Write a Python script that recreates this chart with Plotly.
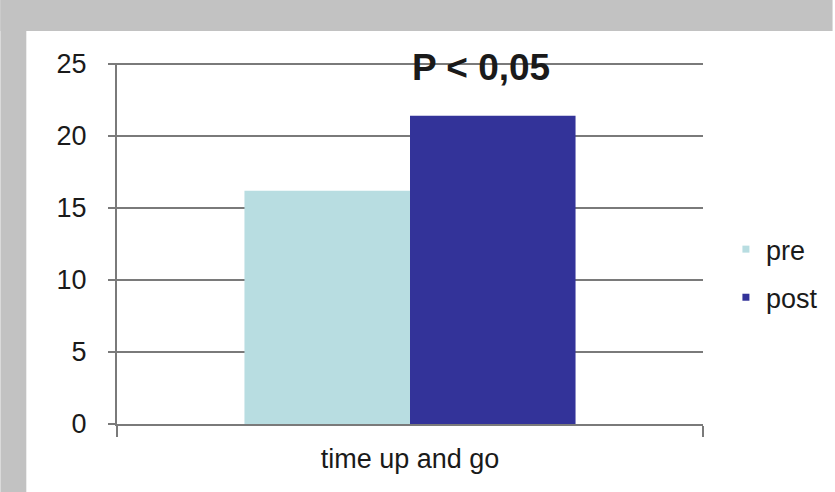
import plotly.graph_objects as go

# ---- data ----
categories = ["time up and go"]
series_names = ["pre", "post"]
pre_values = [16.2]
post_values = [21.4]
series_colors = ["#b8dde1", "#333399"]
y_ticks = [0, 5, 10, 15, 20, 25]
annotation_text = "P < 0,05"

W, H = 835, 492
ML, MR, MT, MB = 117, 130, 64, 68
pw = W - ML - MR
ph = H - MT - MB

def px_x(x):
    return (x - ML) / pw

def px_y(y):
    return (H - MB - y) / ph

FONT = "Liberation Sans, Arial, sans-serif"
TXT = "#1a1a1a"
LINE = "#7a7a7a"

fig = go.Figure()
for name, vals, col in zip(series_names, [pre_values, post_values], series_colors):
    fig.add_trace(go.Bar(x=categories, y=vals, name=name, marker_color=col,
                         marker_line_width=0, showlegend=False))
    fig.add_trace(go.Scatter(x=[None], y=[None], mode="markers", name=name,
                             legendgroup=name,
                             marker=dict(symbol="square", size=7, color=col)))

fig.update_layout(
    width=W, height=H,
    margin=dict(l=ML, r=MR, t=MT - 1, b=MB),
    paper_bgcolor="white", plot_bgcolor="white",
    barmode="group", bargap=0.435, bargroupgap=0,
    font=dict(family=FONT, size=27, color=TXT),
    legend=dict(x=px_x(728), y=px_y(274), xanchor="left", yanchor="middle",
                font=dict(size=27, color=TXT), bgcolor="rgba(0,0,0,0)",
                traceorder="grouped", tracegroupgap=10),
    xaxis=dict(type="category", showgrid=False, showline=True, linecolor=LINE,
               linewidth=2, ticks="outside", tickson="boundaries", ticklen=11,
               tickwidth=2, tickcolor=LINE, ticklabelstandoff=10,
               tickfont=dict(size=27, color=TXT)),
    yaxis=dict(range=[0, 25.07], tickvals=y_ticks, showgrid=True, gridcolor=LINE,
               gridwidth=2, showline=True, linecolor=LINE, linewidth=2,
               ticks="outside", ticklen=7, tickwidth=2, tickcolor=LINE,
               ticklabelstandoff=16, zeroline=False,
               tickfont=dict(size=27, color=TXT)),
    shapes=[
        dict(type="rect", xref="paper", yref="paper", layer="above",
             x0=px_x(0), x1=px_x(W), y0=px_y(0), y1=px_y(32),
             fillcolor="#c2c2c2", line_width=0),
        dict(type="rect", xref="paper", yref="paper", layer="above",
             x0=px_x(0), x1=px_x(26), y0=px_y(0), y1=px_y(H),
             fillcolor="#c2c2c2", line_width=0),
    ],
    annotations=[
        dict(text="<b>" + annotation_text + "</b>", xref="paper", yref="paper",
             x=px_x(482), y=px_y(68), xanchor="center", yanchor="middle",
             showarrow=False, font=dict(size=37, color=TXT, family=FONT)),
    ],
)

fig.write_html("out.html")
